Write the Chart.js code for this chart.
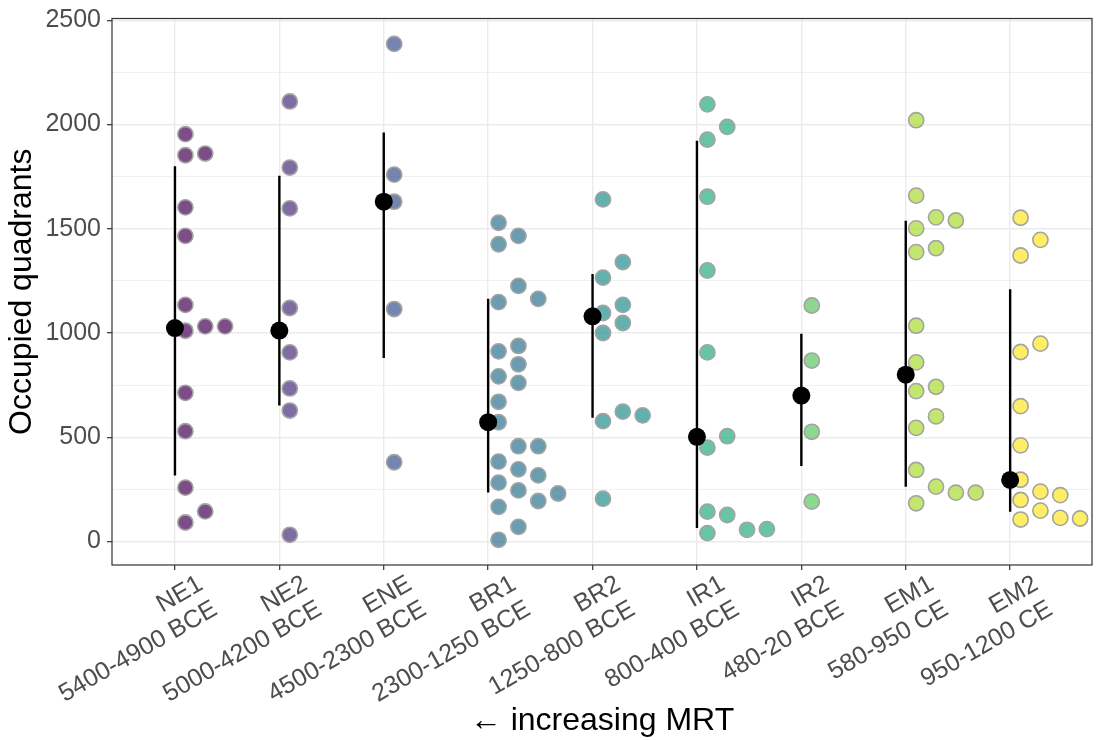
<!DOCTYPE html>
<html>
<head>
<meta charset="utf-8">
<script src="https://cdn.jsdelivr.net/npm/chart.js@4.4.1/dist/chart.umd.min.js"></script>
<style>
html,body{margin:0;padding:0;background:#fff;}
</style>
</head>
<body>
<canvas id="chart" width="1106" height="740"></canvas>
<script>
// phases along the x axis (label line 1 / line 2)
const phases = ["NE1","NE2","ENE","BR1","BR2","IR1","IR2","EM1","EM2"]
const dates = ["5400-4900 BCE","5000-4200 BCE","4500-2300 BCE","2300-1250 BCE","1250-800 BCE","800-400 BCE","480-20 BCE","580-950 CE","950-1200 CE"]

// occupied quadrants, one value per sample
const ne1 = [1954,1853,1603,1466,1135,1011,713,529,258,91,1861,1032,144,1032]
const ne2 = [2111,1794,1598,1120,907,734,628,32]
const ene = [2387,1760,1630,1115,380]
const br1 = [1529,1426,1148,912,792,670,572,383,282,166,8,1466,1226,938,850,761,457,346,245,70,1164,457,317,194,230]
const br2 = [1641,1266,1096,1000,577,205,1340,1135,1048,623,605]
const ir1 = [2097,1928,1654,1300,907,450,143,40,1989,505,127,56,59]
const ir2 = [1132,868,526,191]
const em1 = [2021,1659,1502,1388,1035,859,721,545,343,183,1555,1407,742,600,263,1540,234,234]
const em2 = [1553,1372,909,649,461,296,199,105,1447,949,239,148,222,113,110]

// summary per phase: centre and interval
const centre = [1024,1012,1630,572,1080,502,700,800,295]
const lower = [317,652,880,235,594,64,362,263,142]
const upper = [1800,1754,1962,1165,1283,1922,997,1539,1210]

const yTicks = [0,500,1000,1500,2000,2500]

const series = [ne1,ne2,ene,br1,br2,ir1,ir2,em1,em2]
const fills = [
"rgba(68,1,84,0.7)","rgba(71,45,123,0.7)","rgba(59,82,139,0.7)",
"rgba(44,114,142,0.7)","rgba(33,144,140,0.7)","rgba(39,173,129,0.7)",
"rgba(93,200,99,0.7)","rgba(170,220,50,0.7)","rgba(253,231,37,0.7)"
]

const FONT = "'Liberation Sans', Arial, sans-serif"

// simple one-sided swarm: put each point in the first column where it does not overlap
const NUDGE = 0.1
const STEP = 0.19
const GAP = 85
function swarm(values, cx){
  const cols = []
  return values.map(v => {
    let c = 0
    while (cols[c] && cols[c].some(u => Math.abs(u - v) < GAP)) c++
    if (!cols[c]) cols[c] = []
    cols[c].push(v)
    return {x: cx + NUDGE + c * STEP, y: v}
  })
}

// minor grid half way between labelled ticks
const yGrid = []
yTicks.forEach((t, i) => {
  yGrid.push(t)
  if (i < yTicks.length - 1) yGrid.push((t + yTicks[i + 1]) / 2)
})

const datasets = []

// medians on top
datasets.push({
  type: "scatter",
  data: centre.map((v, i) => ({x: i + 1, y: v})),
  backgroundColor: "#000",
  borderWidth: 0,
  pointRadius: 9,
  order: 1
})

// interval lines
lower.forEach((lo, i) => {
  datasets.push({
    type: "line",
    data: [{x: i + 1, y: lo}, {x: i + 1, y: upper[i]}],
    borderColor: "#000",
    borderWidth: 2.4,
    pointRadius: 0,
    order: 2
  })
})

// sample points
series.forEach((vals, i) => {
  datasets.push({
    type: "scatter",
    data: swarm(vals, i + 1),
    backgroundColor: fills[i],
    borderColor: "#a3a3a3",
    borderWidth: 1.6,
    pointRadius: 7.6,
    order: 3
  })
})

const panelBorder = {
  id: "panelBorder",
  afterDraw(chart){
    const {ctx, chartArea: a} = chart
    ctx.save()
    ctx.strokeStyle = "#333333"
    ctx.lineWidth = 1.2
    ctx.strokeRect(a.left, a.top, a.right - a.left, a.bottom - a.top)
    ctx.restore()
  }
}

const isMajor = c => c.tick && yTicks.includes(c.tick.value)

new Chart(document.getElementById("chart"), {
  data: {datasets: datasets},
  plugins: [panelBorder],
  options: {
    responsive: false,
    animation: false,
    devicePixelRatio: 1,
    layout: {padding: {top: 17, right: 14, left: 0, bottom: 0}},
    plugins: {legend: {display: false}, tooltip: {enabled: false}},
    scales: {
      x: {
        type: "linear",
        min: 0.397,
        max: 9.784,
        afterBuildTicks: s => { s.ticks = phases.map((_, i) => ({value: i + 1})) },
        afterFit: s => { s.height = 175 },
        border: {display: false},
        grid: {color: "#ebebeb", lineWidth: 1.4, tickColor: "#333", tickLength: 5, tickWidth: 1.2},
        ticks: {
          autoSkip: false,
          maxRotation: 30,
          minRotation: 30,
          color: "#4d4d4d",
          padding: 0,
          labelOffset: 26,
          font: {family: FONT, size: 25, lineHeight: 1.15},
          callback: v => [phases[Math.round(v) - 1], dates[Math.round(v) - 1]]
        },
        title: {display: true, text: "← increasing MRT", color: "#000", font: {family: FONT, size: 32}, padding: {bottom: 0}}
      },
      y: {
        min: -113,
        max: 2509,
        afterBuildTicks: s => { s.ticks = yGrid.map(v => ({value: v})) },
        afterFit: s => { s.width = 112 },
        border: {display: false},
        grid: {
          color: "#ebebeb",
          lineWidth: c => isMajor(c) ? 1.4 : 0.7,
          tickColor: c => isMajor(c) ? "#333" : "rgba(0,0,0,0)",
          tickLength: 5,
          tickWidth: 1.2
        },
        ticks: {
          color: "#4d4d4d",
          padding: 6,
          font: {family: FONT, size: 25, lineHeight: 1},
          callback: v => yTicks.includes(v) ? String(v) : ""
        },
        title: {display: true, text: "Occupied quadrants", color: "#000", font: {family: FONT, size: 32}, padding: {top: 3}}
      }
    }
  }
})
</script>
</body>
</html>
